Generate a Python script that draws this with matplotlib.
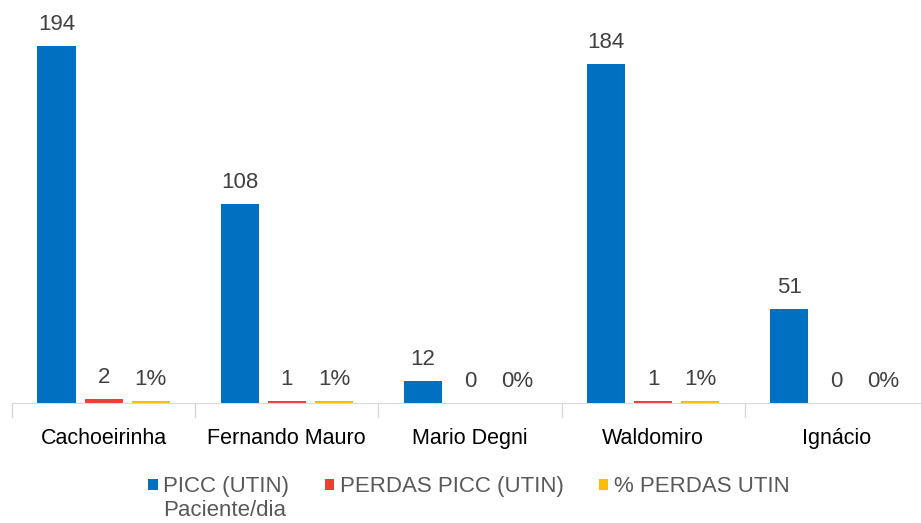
import numpy as np
import matplotlib.pyplot as plt

plt.rcParams['font.family'] = ['Liberation Sans', 'DejaVu Sans']

# data
hospitais = ["Cachoeirinha", "Fernando Mauro", "Mario Degni", "Waldomiro", "Ignácio"]
picc = [194, 108, 12, 184, 51]
perdas = [2, 1, 0, 1, 0]
perc_perdas = [1, 1, 0, 1, 0]   # in %

series_names = ["PICC (UTIN)", "PERDAS PICC (UTIN)", "% PERDAS UTIN"]
cores = ["#0070C0", "#E94235", "#FBBC05"]

W, H = 921, 523
fig = plt.figure(figsize=(W / 100, H / 100), dpi=100)
ax = fig.add_axes([12 / W, 1 - 403 / H, 916 / W, 393 / H])

x = np.arange(len(hospitais))
w = 0.208
step = 0.257

series = [picc, perdas, perc_perdas]
labels_fmt = ["{}", "{}", "{}%"]
for k, (vals, cor, nome, fmt) in enumerate(zip(series, cores, series_names, labels_fmt)):
    pos = x + (k - 1) * step
    ax.bar(pos, vals, width=w, color=cor, label=nome)
    for p, v in zip(pos, vals):
        ax.annotate(fmt.format(v), (p, v), xytext=(0, 8), textcoords='offset points',
                    ha='center', va='bottom', fontsize=16, color='#404040')

ax.set_xlim(-0.5, len(hospitais) - 0.5)
ax.set_ylim(0, 213.6)
ax.set_yticks([])
ax.set_xticks(x)
ax.set_xticklabels(hospitais, fontsize=15.5, color='#000000')
ax.tick_params(axis='x', length=0, pad=18)
# category separators
for b in np.arange(-0.5, len(hospitais), 1.0):
    ax.plot([b, b], [0, -0.035], transform=ax.get_xaxis_transform(),
            color='#D9D9D9', lw=1, clip_on=False)

for s in ['top', 'right', 'left']:
    ax.spines[s].set_visible(False)
ax.spines['bottom'].set_color('#D9D9D9')

leg = fig.legend(loc='center', bbox_to_anchor=(469 / W, 1 - 487 / H), ncol=3,
                 frameon=False, fontsize=16, handlelength=0.42, handleheight=0.42,
                 handletextpad=0.25, columnspacing=1.6, labelcolor='#595959',
                 borderpad=0)

# second line of the first legend entry
fig.canvas.draw()
bb = leg.get_texts()[0].get_window_extent()
fig.text(bb.x0 / W, (bb.y0 - 2) / H, "Paciente/dia", ha='left', va='top',
         fontsize=16, color='#595959')

fig.savefig("out.png", dpi=100)
